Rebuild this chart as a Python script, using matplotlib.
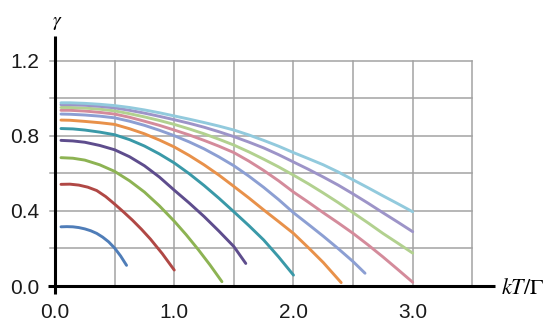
import matplotlib
matplotlib.use("Agg")
import matplotlib.pyplot as plt

plt.rcParams['font.family'] = ['Liberation Sans', 'DejaVu Sans']
plt.rcParams['mathtext.fontset'] = 'stix'

# ---- data ----
x_blue = [0.05, 0.10, 0.15, 0.20, 0.25, 0.30, 0.35, 0.40, 0.45, 0.50, 0.55, 0.60]
y_blue = [0.315, 0.316, 0.315, 0.311, 0.304, 0.294, 0.280, 0.260, 0.235, 0.202, 0.160, 0.110]

x_red = [0.05, 0.125, 0.20, 0.275, 0.35, 0.425, 0.50, 0.575, 0.65, 0.725, 0.80, 0.90, 1.00]
y_red = [0.541, 0.542, 0.537, 0.526, 0.508, 0.476, 0.436, 0.394, 0.350, 0.302, 0.250, 0.172, 0.085]

x_green = [0.05, 0.15, 0.25, 0.375, 0.50, 0.625, 0.75, 0.875, 1.00, 1.10, 1.20, 1.30, 1.40]
y_green = [0.683, 0.680, 0.670, 0.645, 0.610, 0.560, 0.500, 0.427, 0.345, 0.273, 0.195, 0.112, 0.023]

x_purple = [0.05, 0.15, 0.25, 0.375, 0.50, 0.625, 0.75, 0.875, 1.00, 1.125, 1.25, 1.375, 1.50, 1.60]
y_purple = [0.775, 0.772, 0.765, 0.748, 0.725, 0.688, 0.640, 0.580, 0.510, 0.442, 0.370, 0.292, 0.210, 0.120]

x_teal = [0.05, 0.15, 0.25, 0.375, 0.50, 0.625, 0.75, 0.875, 1.00, 1.125, 1.25, 1.375,
          1.50, 1.625, 1.75, 1.875, 2.00]
y_teal = [0.838, 0.836, 0.830, 0.819, 0.805, 0.779, 0.745, 0.703, 0.655, 0.598, 0.535, 0.467,
          0.395, 0.322, 0.245, 0.155, 0.058]

x_orange = [0.05, 0.125, 0.25, 0.375, 0.50, 0.625, 0.75, 0.875, 1.00, 1.125, 1.25, 1.375,
            1.50, 1.625, 1.75, 1.875, 2.00, 2.125, 2.25, 2.40]
y_orange = [0.883, 0.882, 0.876, 0.869, 0.860, 0.837, 0.810, 0.777, 0.740, 0.695, 0.645, 0.590,
            0.530, 0.469, 0.405, 0.343, 0.280, 0.204, 0.125, 0.018]

x_violet = [0.05, 0.125, 0.25, 0.375, 0.50, 0.625, 0.75, 0.875, 1.00, 1.125, 1.25, 1.375,
            1.50, 1.625, 1.75, 1.875, 2.00, 2.125, 2.25, 2.375, 2.50, 2.60]
y_violet = [0.915, 0.914, 0.910, 0.904, 0.895, 0.877, 0.855, 0.829, 0.800, 0.767, 0.730, 0.687,
            0.640, 0.585, 0.525, 0.460, 0.390, 0.328, 0.265, 0.199, 0.130, 0.068]

x_long = [0.05, 0.125, 0.25, 0.375, 0.50, 0.625, 0.75, 0.875, 1.00, 1.125, 1.25, 1.375, 1.50,
          1.625, 1.75, 1.875, 2.00, 2.125, 2.25, 2.375, 2.50, 2.625, 2.75, 2.875, 3.00]
y_pink = [0.935, 0.935, 0.931, 0.924, 0.915, 0.898, 0.877, 0.855, 0.830, 0.804, 0.775, 0.744, 0.710,
          0.665, 0.615, 0.560, 0.500, 0.446, 0.390, 0.336, 0.280, 0.219, 0.155, 0.088, 0.020]
y_lgreen = [0.950, 0.950, 0.947, 0.941, 0.932, 0.917, 0.900, 0.881, 0.860, 0.836, 0.810, 0.781, 0.750,
            0.714, 0.675, 0.634, 0.590, 0.544, 0.495, 0.444, 0.390, 0.336, 0.280, 0.228, 0.175]
y_lpurple = [0.965, 0.965, 0.962, 0.956, 0.948, 0.935, 0.920, 0.903, 0.885, 0.866, 0.845, 0.821, 0.795,
             0.766, 0.735, 0.699, 0.660, 0.621, 0.580, 0.537, 0.490, 0.441, 0.390, 0.340, 0.289]
y_lblue = [0.975, 0.975, 0.972, 0.967, 0.960, 0.950, 0.937, 0.922, 0.905, 0.888, 0.870, 0.851, 0.830,
           0.804, 0.775, 0.744, 0.710, 0.678, 0.645, 0.607, 0.565, 0.523, 0.480, 0.438, 0.395]

series = [
    (x_blue, y_blue, '#4f7db8'),
    (x_red, y_red, '#b04845'),
    (x_green, y_green, '#8db353'),
    (x_purple, y_purple, '#5e4d8d'),
    (x_teal, y_teal, '#3a99a8'),
    (x_orange, y_orange, '#e8914a'),
    (x_violet, y_violet, '#8c9fd3'),
    (x_long, y_pink, '#d48b9b'),
    (x_long, y_lgreen, '#b2d18f'),
    (x_long, y_lpurple, '#9d94c8'),
    (x_long, y_lblue, '#92cadd'),
]

x_ticks = [0.0, 1.0, 2.0, 3.0]
x_ticklabels = ['0.0', '1.0', '2.0', '3.0']
y_ticks = [0.0, 0.4, 0.8, 1.2]
y_ticklabels = ['0.0', '0.4', '0.8', '1.2']
x_grid = [0.5, 1.0, 1.5, 2.0, 2.5, 3.0, 3.5]
y_grid = [0.2, 0.4, 0.6, 0.8, 1.0, 1.2]

fig = plt.figure(figsize=(5.5, 3.28), dpi=100)
ax = fig.add_axes([0.1, 0.128, 0.8, 0.762])
ax.set_xlim(0, 3.69)
ax.set_ylim(0, 1.33)

gc = '#a3a3a3'
for gx in x_grid:
    ax.plot([gx, gx], [0, 1.2], color=gc, lw=1.1, zorder=1)
for gy in y_grid:
    ax.plot([-0.045, 3.5], [gy, gy], color=gc, lw=1.1, zorder=1, clip_on=False)

for xs, ys, c in series:
    ax.plot(xs, ys, color=c, lw=2.1, solid_capstyle='round', solid_joinstyle='round', zorder=3)

# axes lines
ax.plot([-0.055, 3.69], [0, 0], color='black', lw=2.2, clip_on=False, zorder=4, solid_capstyle='butt')
ax.plot([0, 0], [-0.04, 1.33], color='black', lw=2.2, clip_on=False, zorder=4, solid_capstyle='butt')

for s in ax.spines.values():
    s.set_visible(False)

ax.set_xticks(x_ticks)
ax.set_xticklabels(x_ticklabels)
ax.set_yticks(y_ticks)
ax.set_yticklabels(y_ticklabels)
ax.tick_params(axis='both', length=0, labelsize=15, colors='#1a1a1a')
ax.tick_params(axis='x', pad=12)
ax.tick_params(axis='y', pad=11)

fig.text(57 / 550, 1 - 24 / 328, r'$\gamma$', fontsize=14, ha='center', va='center')
fig.text(523 / 550, 1 - 288 / 328, r'$kT/\Gamma$', fontsize=16, ha='center', va='center')

fig.savefig('out.png', dpi=100)
